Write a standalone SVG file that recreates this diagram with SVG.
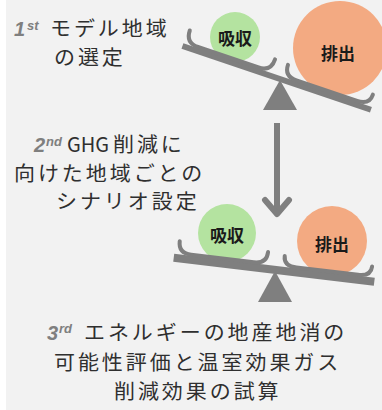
<svg xmlns="http://www.w3.org/2000/svg" width="382" height="410" viewBox="0 0 382 410">
<style>
.bg{fill:#f2f2f2}
.t{font-family:"Noto Sans CJK JP","Noto Sans",sans-serif;font-size:20px;font-weight:400;fill:#2f2f2f;letter-spacing:2.8px}
.lat{font-family:"Noto Sans CJK JP","Noto Sans",sans-serif;font-size:20px;font-weight:400;fill:#2f2f2f}
.n{font-family:"Liberation Sans",Arial,sans-serif;font-size:20px;font-weight:bold;font-style:italic;fill:#7f7f7f}
.s{font-family:"Liberation Sans",Arial,sans-serif;font-size:13px;font-weight:bold;font-style:italic;fill:#7f7f7f}
.lbl{font-family:"Noto Sans CJK JP","Noto Sans",sans-serif;font-size:17px;font-weight:bold;fill:#1a1a1a;text-anchor:middle;dominant-baseline:central}
.g{fill:#7f7f7f}
.cup{fill:none;stroke:#7f7f7f;stroke-width:4;stroke-linecap:round}
.green{fill:#b4e3a0}
.orange{fill:#f3aa82}
.arrow{fill:none;stroke:#7f7f7f;stroke-width:6}
</style>
<rect class="bg" x="6" y="0" width="376" height="410"/>

<g id="step1">
<text class="n" x="14" y="36">1</text>
<text class="s" x="27" y="30">st</text>
<text class="t" transform="translate(50,36) scale(1.05,1)">モデル地域</text>
<text class="t" transform="translate(54,65) scale(1.05,1)">の選定</text>
</g>

<g id="seesaw-top">
<circle class="green" cx="235" cy="37" r="25"/>
<circle class="orange" cx="340" cy="48" r="47"/>
<polygon class="g" points="280,80 263,110 297,110"/>
<g transform="translate(280,79) rotate(18.7)">
<rect class="g" x="-103" y="-3" width="199" height="6"/>
<path class="cup" d="M-101,-17 Q-101,-4 -88,-4 L-24,-4 Q-11,-4 -11,-17"/>
<path class="cup" d="M3,-16 Q3,-4 16,-4 L80,-4 Q93,-4 93,-15"/>
</g>
<text class="lbl" x="235" y="37">吸収</text>
<text class="lbl" x="338" y="52">排出</text>
</g>

<g id="step2">
<text class="n" x="34" y="152">2</text>
<text class="s" x="46" y="146">nd</text>
<text class="lat" x="67" y="152">GHG</text>
<text class="t" transform="translate(113,152) scale(1.05,1)">削減に</text>
<text class="t" transform="translate(14,181) scale(1.05,1)">向けた地域ごとの</text>
<text class="t" transform="translate(56,209) scale(1.05,1)">シナリオ設定</text>
</g>

<g id="connectors">
<path class="arrow" d="M277,123 V213"/>
<path class="arrow" d="M265,200 L277,214 L289,200" stroke-linecap="round" stroke-linejoin="round"/>
</g>

<g id="seesaw-bottom">
<circle class="green" cx="227" cy="233" r="29"/>
<circle class="orange" cx="332" cy="241" r="35"/>
<polygon class="g" points="275,271 258,302 292,302"/>
<g transform="translate(276,270) rotate(6.84)">
<rect class="g" x="-103" y="-4" width="202" height="8"/>
<path class="cup" d="M-99,-17 Q-99,-5 -86,-5 L-23,-5 Q-10,-5 -10,-17"/>
<path class="cup" d="M7,-15 Q7,-5 20,-5 L82,-5 Q95,-5 95,-15"/>
</g>
<text class="lbl" x="227" y="234">吸収</text>
<text class="lbl" x="332" y="243">排出</text>
</g>

<g id="step3">
<text class="n" x="47" y="340">3</text>
<text class="s" x="59" y="333">rd</text>
<text class="t" transform="translate(84,340) scale(1.05,1)">エネルギーの地産地消の</text>
<text class="t" transform="translate(54,370) scale(1.05,1)">可能性評価と温室効果ガス</text>
<text class="t" transform="translate(114,399) scale(1.05,1)">削減効果の試算</text>
</g>
</svg>
